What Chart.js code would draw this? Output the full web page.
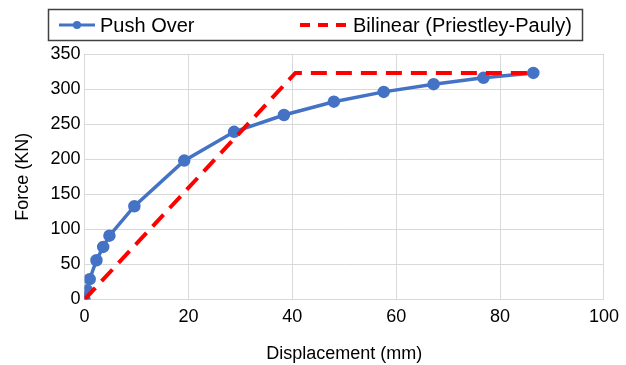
<!DOCTYPE html>
<html>
<head>
<meta charset="utf-8">
<script src="https://cdn.jsdelivr.net/npm/chart.js@4/dist/chart.umd.min.js"></script>
<style>
  html, body { margin: 0; padding: 0; background: #fff; }
  #wrap { width: 626px; height: 365px; }
</style>
</head>
<body>
<div id="wrap"><canvas id="chart" width="626" height="365"></canvas></div>
<script>
// push over curve
const pushDisp = [0, 0.5, 1, 2.3, 3.6, 4.8, 9.6, 19.2, 28.8, 38.4, 48, 57.6, 67.2, 76.8, 86.4]
const pushForce = [0, 13, 29, 56, 75, 91, 133, 198, 239, 263, 282, 296, 307, 316, 323]
// bilinear idealisation
const biDisp = [0, 40.6, 86.4]
const biForce = [0, 323, 323]
const xTicks = [0, 20, 40, 60, 80, 100]
const yTicks = [0, 50, 100, 150, 200, 250, 300, 350]
const seriesNames = ['Push Over', 'Bilinear (Priestley-Pauly)']

const FONT = "'Liberation Sans', Arial, sans-serif"
const BLUE = '#4472C4'
const RED = '#FF0000'

function toPoints(xs, ys){
    return xs.map((x, i) => ({x: x, y: ys[i]}))
}

// legend drawn by hand so it sits in a framed box like the original
const legendBox = {
    id: 'legendBox',
    afterDraw(chart){
        const ctx = chart.ctx
        ctx.save()
        ctx.strokeStyle = '#404040'
        ctx.lineWidth = 1.5
        ctx.strokeRect(48.5, 9.5, 534, 31)
        const y = 25
        // blue sample
        ctx.strokeStyle = BLUE
        ctx.lineWidth = 3
        ctx.beginPath()
        ctx.moveTo(59, y)
        ctx.lineTo(95, y)
        ctx.stroke()
        ctx.fillStyle = BLUE
        ctx.beginPath()
        ctx.arc(77, y, 4, 0, Math.PI * 2)
        ctx.fill()
        // red sample
        ctx.strokeStyle = RED
        ctx.lineWidth = 4
        ctx.setLineDash([10, 8])
        ctx.beginPath()
        ctx.moveTo(300, y)
        ctx.lineTo(348, y)
        ctx.stroke()
        ctx.setLineDash([])
        ctx.fillStyle = '#000'
        ctx.font = '20px ' + FONT
        ctx.textBaseline = 'middle'
        ctx.textAlign = 'left'
        ctx.fillText(chart.data.datasets[0].label, 100, y + 1)
        ctx.fillText(chart.data.datasets[1].label, 353, y + 1)
        ctx.restore()
    }
}

const ctx = document.getElementById('chart').getContext('2d')
new Chart(ctx, {
    type: 'scatter',
    data: {
        datasets: [
            {
                label: seriesNames[0],
                data: toPoints(pushDisp, pushForce),
                showLine: true,
                borderColor: BLUE,
                backgroundColor: BLUE,
                borderWidth: 3.5,
                pointRadius: 4.5,
                pointHoverRadius: 4.5,
                tension: 0,
                order: 2
            },
            {
                label: seriesNames[1],
                data: toPoints(biDisp, biForce),
                showLine: true,
                borderColor: RED,
                backgroundColor: RED,
                borderWidth: 4,
                borderDash: [16, 9],
                pointRadius: 0,
                tension: 0,
                order: 1
            }
        ]
    },
    options: {
        responsive: false,
        animation: false,
        layout: { padding: { top: 54, right: 21, left: 0, bottom: 0 } },
        plugins: {
            legend: { display: false },
            tooltip: { enabled: false }
        },
        scales: {
            x: {
                type: 'linear',
                min: 0,
                max: 100,
                afterBuildTicks(axis){ axis.ticks = xTicks.map(v => ({value: v})) },
                afterFit(axis){ axis.height = 65.5 },
                grid: { color: '#d9d9d9', lineWidth: 1, drawTicks: false },
                border: { color: '#d9d9d9' },
                ticks: { color: '#000', font: { family: FONT, size: 18 }, padding: 7 },
                title: {
                    display: true,
                    text: 'Displacement (mm)',
                    color: '#000',
                    font: { family: FONT, size: 18 },
                    padding: { top: 0, bottom: 0 }
                }
            },
            y: {
                type: 'linear',
                min: 0,
                max: 350,
                afterBuildTicks(axis){ axis.ticks = yTicks.map(v => ({value: v})) },
                afterFit(axis){ axis.width = 84.5 },
                grid: { color: '#d9d9d9', lineWidth: 1, drawTicks: false },
                border: { color: '#d9d9d9' },
                ticks: { color: '#000', font: { family: FONT, size: 18 }, padding: 4 },
                title: {
                    display: true,
                    text: 'Force (KN)',
                    color: '#000',
                    font: { family: FONT, size: 18 },
                    padding: { top: 12, bottom: 0 }
                }
            }
        }
    },
    plugins: [legendBox]
})
</script>
</body>
</html>
